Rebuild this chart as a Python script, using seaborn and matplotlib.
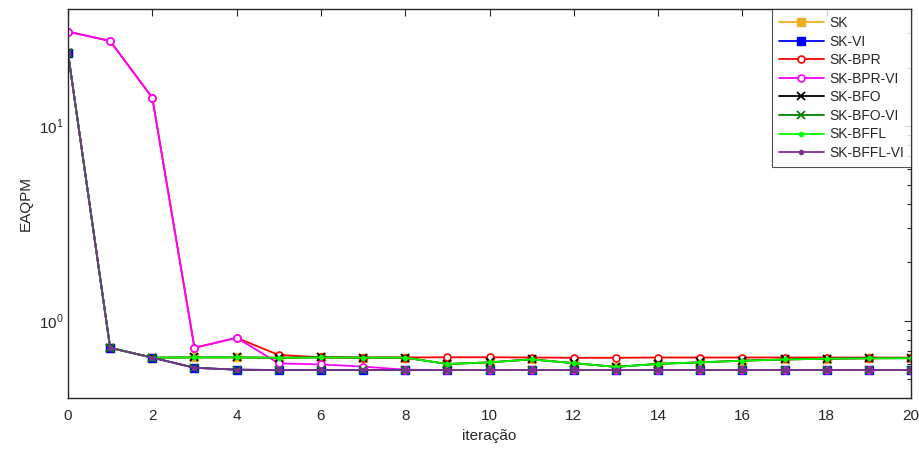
import numpy as np
import pandas as pd
import matplotlib
matplotlib.use("Agg")
import matplotlib.pyplot as plt
import seaborn as sns
from matplotlib.ticker import LogLocator, NullFormatter, FixedLocator

iters = list(range(21))

sk = [23.8, 0.727, 0.647, 0.649, 0.649, 0.646, 0.649, 0.647, 0.647, 0.600, 0.612, 0.634,
      0.606, 0.580, 0.601, 0.612, 0.624, 0.633, 0.639, 0.642, 0.643]
sk_vi = [23.8, 0.727, 0.647, 0.574, 0.561, 0.559, 0.559, 0.559, 0.559, 0.559, 0.559, 0.559,
         0.559, 0.559, 0.559, 0.559, 0.559, 0.559, 0.559, 0.559, 0.559]
sk_bpr = [30.6, 27.4, 14.0, 0.727, 0.818, 0.668, 0.650, 0.648, 0.648, 0.650, 0.650, 0.648,
          0.646, 0.646, 0.648, 0.648, 0.648, 0.648, 0.648, 0.648, 0.647]
sk_bpr_vi = [30.6, 27.4, 14.0, 0.727, 0.818, 0.605, 0.597, 0.582, 0.561, 0.559, 0.559, 0.559,
             0.559, 0.559, 0.559, 0.559, 0.559, 0.559, 0.559, 0.559, 0.559]
sk_bfo = list(sk)
sk_bfo_vi = list(sk_vi)
sk_bffl = list(sk)
sk_bffl_vi = list(sk_vi)

names = ["SK", "SK-VI", "SK-BPR", "SK-BPR-VI", "SK-BFO", "SK-BFO-VI", "SK-BFFL", "SK-BFFL-VI"]
series = [sk, sk_vi, sk_bpr, sk_bpr_vi, sk_bfo, sk_bfo_vi, sk_bffl, sk_bffl_vi]
colors = ["#EDB120", "#0000FF", "#FF0000", "#FF00FF", "#000000", "#008000", "#00FF00", "#7E2F8E"]
markers = ["s", "s", "o", "o", "x", "x", ".", "."]

x_ticks = [0, 2, 4, 6, 8, 10, 12, 14, 16, 18, 20]

sns.set_theme(style="white")
plt.rcParams['font.family'] = ['Liberation Sans', 'DejaVu Sans']
plt.rcParams['mathtext.fontset'] = 'custom'
plt.rcParams['mathtext.rm'] = 'Liberation Sans'

fig = plt.figure(figsize=(9.19, 4.5), dpi=100)
ax = fig.add_axes([68/919, (450-398.3)/450, (911-68)/919, (398.3-9)/450])

for name, vals, c, m in zip(names, series, colors, markers):
    df = pd.DataFrame({"iter": iters, "val": vals})
    kw = dict(color=c, marker=m, linewidth=1.3, label=name, markeredgecolor=c)
    if m == "s":
        kw.update(markersize=5.5, markerfacecolor=c, markeredgewidth=1.0)
    elif m == "o":
        kw.update(markersize=5, markerfacecolor="white", markeredgewidth=1.2)
    elif m == "x":
        kw.update(markersize=6, markeredgewidth=1.3)
    else:
        kw.update(markersize=6, markerfacecolor=c, markeredgewidth=1.0)
    sns.lineplot(data=df, x="iter", y="val", ax=ax, **kw)

ax.set_yscale("log")
ax.set_xlim(0, 20)
ax.set_ylim(0.4, 40)
ax.set_xticks(x_ticks)
ax.set_xticklabels([str(t) for t in x_ticks])
ax.yaxis.set_major_locator(FixedLocator([1, 10]))
ax.set_yticklabels([r"$10^0$", r"$10^1$"])
ax.yaxis.set_minor_locator(LogLocator(base=10, subs=np.arange(2, 10)))
ax.yaxis.set_minor_formatter(NullFormatter())

axc = "#262626"
for s in ax.spines.values():
    s.set_visible(True)
    s.set_color(axc)
    s.set_linewidth(1.0)
ax.tick_params(axis="both", which="both", direction="in", top=True, right=True,
               color=axc, labelcolor=axc, labelsize=11)
ax.tick_params(which="major", length=5, width=0.8)
ax.tick_params(which="minor", length=3, width=0.8)
ax.tick_params(axis="x", pad=8)

ax.set_xlabel("iteração", fontsize=11, color=axc)
ax.set_ylabel("EAQPM", fontsize=11, color=axc)
ax.grid(False)

leg = ax.legend(loc="upper right", fontsize=10, frameon=True, fancybox=False,
                borderaxespad=0, handlelength=3.2, labelspacing=0.33,
                borderpad=0.5, handletextpad=0.4)
leg.get_frame().set_edgecolor(axc)
leg.get_frame().set_linewidth(0.8)

fig.savefig("out.png", dpi=100)
